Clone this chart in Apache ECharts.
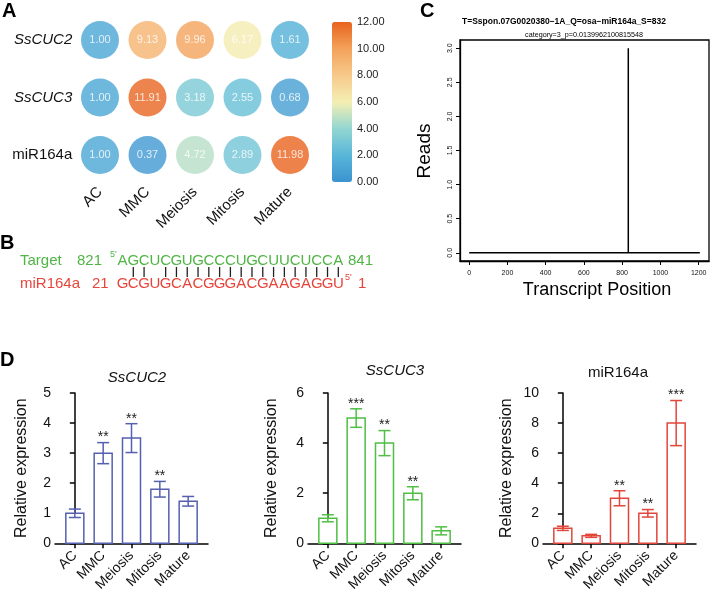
<!DOCTYPE html>
<html><head><meta charset="utf-8">
<script src="https://cdn.jsdelivr.net/npm/echarts@6/dist/echarts.min.js"></script>
<style>html,body{margin:0;padding:0;background:#fff}#c{width:711px;height:594px}</style>
</head><body><div id="c"></div>
<script>
const FONT = 'Liberation Sans, Arial, Helvetica, sans-serif';

// ---- Panel A : bubble heatmap ----
const heatStages = ['AC', 'MMC', 'Meiosis', 'Mitosis', 'Mature'];
const heatGenes = ['SsCUC2', 'SsCUC3', 'miR164a'];
const heatSsCUC2 = [1.00, 9.13, 9.96, 6.17, 1.61];
const heatSsCUC3 = [1.00, 11.91, 3.18, 2.55, 0.68];
const heatMiR164a = [1.00, 0.37, 4.72, 2.89, 11.98];
const heatColors = ['#3b93d0', '#58b6d9', '#93d6d2', '#f4efb3', '#f7c98b', '#f3a25a', '#e8621d'];

// ---- Panel B : target pairing ----
const targetSeq = ['A','G','C','U','C','G','U','G','C','C','C','U','G','C','U','U','C','U','C','C','A'];
const mirSeq    = ['G','C','G','U','G','C','A','C','G','G','G','A','C','G','A','A','G','A','G','G','U'];
const pairMask  = [0,1,1,0,1,1,1,1,1,1,1,1,1,1,1,1,1,1,1,1,1];

// ---- Panel C : degradome reads ----
const readsPositions = [0, 832, 832, 832, 1206];
const readsValues    = [0, 0, 3, 0, 0];
const cXTicks = [0, 200, 400, 600, 800, 1000, 1200];
const cYTicks = [0, 0.5, 1, 1.5, 2, 2.5, 3];

// ---- Panel D : qPCR ----
const dStages = ['AC', 'MMC', 'Meiosis', 'Mitosis', 'Mature'];
const dPositions = [0, 1, 2, 3, 4];
const cuc2Mean = [1.0, 3.0, 3.5, 1.8, 1.4];
const cuc2Err  = [0.14, 0.35, 0.48, 0.26, 0.16];
const cuc2Sig  = ['', '**', '**', '**', ''];
const cuc3Mean = [1.0, 5.0, 4.0, 2.0, 0.5];
const cuc3Err  = [0.14, 0.37, 0.5, 0.26, 0.16];
const cuc3Sig  = ['', '***', '**', '**', ''];
const mirMean  = [1.0, 0.5, 3.0, 2.0, 8.0];
const mirErr   = [0.14, 0.1, 0.5, 0.25, 1.5];
const mirSig   = ['', '', '**', '**', '***'];

const heatData = [];
[heatSsCUC2, heatSsCUC3, heatMiR164a].forEach((row, gi) => row.forEach((v, si) => heatData.push([si, gi, v])));

const chart = echarts.init(document.getElementById('c'), null, {renderer: 'canvas', width: 711, height: 594});

function txt(text, x, y, o) {
  o = o || {};
  return {
    type: 'text', x: x, y: y, rotation: o.rotation || 0, silent: true,
    style: {
      text: text, x: 0, y: 0, fill: o.color || '#111',
      fontSize: o.size || 15, fontFamily: FONT, fontWeight: o.weight || 'normal',
      fontStyle: o.style || 'normal',
      textAlign: o.align || 'left', textVerticalAlign: 'middle'
    }
  };
}

function barRender(color, means, errs, sigs) {
  return function (params, api) {
    const i = params.dataIndex;
    const x = api.value(0), m = api.value(1);
    const base = api.coord([x, 0]);
    const top = api.coord([x, m]);
    const eT = api.coord([x, m + errs[i]]);
    const eB = api.coord([x, m - errs[i]]);
    const w = 18, cap = 6;
    const st = {stroke: color, lineWidth: 1.5, fill: null};
    const ch = [
      {type: 'rect', shape: {x: base[0] - w / 2, y: top[1], width: w, height: base[1] - top[1]},
       style: {fill: '#fff', stroke: color, lineWidth: 1.5}},
      {type: 'line', shape: {x1: eT[0], y1: eT[1], x2: eB[0], y2: eB[1]}, style: st},
      {type: 'line', shape: {x1: eT[0] - cap, y1: eT[1], x2: eT[0] + cap, y2: eT[1]}, style: st},
      {type: 'line', shape: {x1: eB[0] - cap, y1: eB[1], x2: eB[0] + cap, y2: eB[1]}, style: st}
    ];
    if (sigs[i]) {
      ch.push({type: 'text', style: {text: sigs[i], x: eT[0], y: eT[1] - 5, fill: '#222', fontSize: 14,
        fontFamily: FONT, textAlign: 'center', textVerticalAlign: 'middle'}});
    }
    return {type: 'group', children: ch};
  };
}

function dXAxis(g) {
  return {
    gridIndex: g, type: 'value', min: -0.7, max: 4.7,
    axisLine: {show: true, onZero: false, lineStyle: {color: '#000', width: 1.5}},
    axisTick: {show: true, length: 5, customValues: dPositions, lineStyle: {color: '#000', width: 1.5}},
    axisLabel: {customValues: dPositions, formatter: v => dStages[Math.round(v)], rotate: 45,
      fontSize: 14, color: '#111', margin: 10},
    splitLine: {show: false}
  };
}
function dYAxis(g, max, interval, gap) {
  return {
    gridIndex: g, type: 'value', min: 0, max: max, interval: interval,
    axisLine: {show: true, lineStyle: {color: '#000', width: 1.5}},
    axisTick: {show: true, length: 5, lineStyle: {color: '#000', width: 1.5}},
    axisLabel: {fontSize: 14, color: '#111', margin: 4},
    splitLine: {show: false},
    name: 'Relative expression', nameLocation: 'middle', nameGap: gap,
    nameTextStyle: {fontSize: 16, color: '#111'}
  };
}

const option = {
  animation: false,
  textStyle: {fontFamily: FONT},
  grid: [
    {left: 76.25, top: 11.25, width: 237.5, height: 172.5},
    {left: 332, top: 22, width: 20, height: 160},
    {left: 117.1, top: 249, width: 226.6, height: 46},
    {left: 460, top: 40, width: 249, height: 221, show: true, borderColor: '#000', borderWidth: 1.3, backgroundColor: 'transparent'},
    {left: 55, top: 393, width: 153, height: 152},
    {left: 308, top: 393, width: 153, height: 152},
    {left: 543, top: 393, width: 153, height: 152}
  ],
  xAxis: [
    {gridIndex: 0, type: 'category', data: heatStages, axisLine: {show: false}, axisTick: {show: false},
     axisLabel: {rotate: 45, fontSize: 15, color: '#111', margin: 6}, splitLine: {show: false}},
    {gridIndex: 1, type: 'value', show: false},
    {gridIndex: 2, type: 'category', data: targetSeq.map((_, i) => i), show: false},
    {gridIndex: 3, type: 'value', min: -48, max: 1254,
     axisLine: {show: true, onZero: false, lineStyle: {color: '#000', width: 1.3}},
     axisTick: {show: true, length: 4, customValues: cXTicks, lineStyle: {color: '#000'}},
     axisLabel: {customValues: cXTicks, formatter: v => String(v), fontSize: 7, color: '#111', margin: 9},
     splitLine: {show: false}},
    dXAxis(4), dXAxis(5), dXAxis(6)
  ],
  yAxis: [
    {gridIndex: 0, type: 'category', data: heatGenes, inverse: true, axisLine: {show: false}, axisTick: {show: false},
     axisLabel: {fontSize: 15, color: '#111', margin: 4,
       formatter: v => v.indexOf('Ss') === 0 ? '{it|' + v + '}' : v,
       rich: {it: {fontStyle: 'italic', fontSize: 15, color: '#111'}}},
     splitLine: {show: false}},
    {gridIndex: 1, type: 'value', min: 0, max: 12, interval: 2, position: 'right',
     axisLine: {show: false}, axisTick: {show: false}, splitLine: {show: false},
     axisLabel: {formatter: v => v.toFixed(2), fontSize: 11, color: '#222', margin: 5}},
    {gridIndex: 2, type: 'value', min: -0.5, max: 1.5, show: false},
    {gridIndex: 3, type: 'value', min: -0.12, max: 3.12,
     axisLine: {show: true, onZero: false, lineStyle: {color: '#000', width: 1.3}},
     axisTick: {show: true, length: 4, customValues: cYTicks, lineStyle: {color: '#000'}},
     axisLabel: {customValues: cYTicks, formatter: v => v.toFixed(1), rotate: 90, fontSize: 7, color: '#111', margin: 6},
     splitLine: {show: false}},
    dYAxis(4, 5, 1, 25), dYAxis(5, 6, 2, 28), dYAxis(6, 10, 2, 28)
  ],
  visualMap: {
    type: 'continuous', seriesIndex: 0, dimension: 2, min: 0, max: 12,
    orient: 'vertical', left: 332, top: 22, itemWidth: 20, itemHeight: 160,
    calculable: false, padding: 0, hoverLink: false,
    inRange: {color: heatColors}
  },
  series: [
    {type: 'scatter', xAxisIndex: 0, yAxisIndex: 0, data: heatData, symbolSize: 38, silent: true,
     label: {show: true, position: 'inside', formatter: p => p.value[2].toFixed(2), color: '#fff', fontSize: 11}},
    {type: 'custom', xAxisIndex: 2, yAxisIndex: 2, silent: true,
     data: targetSeq.map((_, i) => [i, 1]),
     renderItem: function (params, api) {
       const i = params.dataIndex;
       const pt = api.coord([i, 1]);
       const pb = api.coord([i, 0]);
       const ch = [
         {type: 'text', style: {text: targetSeq[i], x: pt[0], y: pt[1], fill: '#4fb545', fontSize: 15, fontFamily: FONT, textAlign: 'center', textVerticalAlign: 'middle'}},
         {type: 'text', style: {text: mirSeq[i], x: pb[0], y: pb[1], fill: '#e6453b', fontSize: 15, fontFamily: FONT, textAlign: 'center', textVerticalAlign: 'middle'}}
       ];
       if (pairMask[i]) {
         const a = api.coord([i, 0.72]), b = api.coord([i, 0.28]);
         ch.push({type: 'line', shape: {x1: a[0], y1: a[1], x2: b[0], y2: b[1]}, style: {stroke: '#222', lineWidth: 1.3}});
       }
       return {type: 'group', children: ch};
     }},
    {type: 'line', xAxisIndex: 3, yAxisIndex: 3, silent: true, showSymbol: false,
     data: readsPositions.map((x, i) => [x, readsValues[i]]),
     lineStyle: {color: '#000', width: 1.5}},
    {type: 'custom', xAxisIndex: 4, yAxisIndex: 4, silent: true,
     data: dPositions.map((x, i) => [x, cuc2Mean[i]]), renderItem: barRender('#5560b0', cuc2Mean, cuc2Err, cuc2Sig)},
    {type: 'custom', xAxisIndex: 5, yAxisIndex: 5, silent: true,
     data: dPositions.map((x, i) => [x, cuc3Mean[i]]), renderItem: barRender('#4fbf44', cuc3Mean, cuc3Err, cuc3Sig)},
    {type: 'custom', xAxisIndex: 6, yAxisIndex: 6, silent: true,
     data: dPositions.map((x, i) => [x, mirMean[i]]), renderItem: barRender('#e2463a', mirMean, mirErr, mirSig)}
  ],
  graphic: [
    txt('A', 2, 11.5, {size: 20, weight: 'bold', color: '#000'}),
    txt('B', 0, 243.5, {size: 20, weight: 'bold', color: '#000'}),
    txt('C', 420, 11.5, {size: 20, weight: 'bold', color: '#000'}),
    txt('D', 0, 360.5, {size: 20, weight: 'bold', color: '#000'}),
    // Panel B labels
    txt('Target', 20, 260.5, {color: '#4fb545'}),
    txt('821', 77, 260.5, {color: '#4fb545'}),
    txt("5'", 110, 255, {color: '#4fb545', size: 9}),
    txt('841', 348, 260.5, {color: '#4fb545'}),
    txt('miR164a', 20, 283.5, {color: '#e6453b'}),
    txt('21', 92, 283.5, {color: '#e6453b'}),
    txt("5'", 345, 278, {color: '#e6453b', size: 9}),
    txt('1', 358, 283.5, {color: '#e6453b'}),
    // Panel C texts
    txt('T=Sspon.07G0020380\u22121A_Q=osa\u2212miR164a_S=832', 462, 22, {size: 8.5, weight: 'bold', color: '#000'}),
    txt('category=3_p=0.0139962100815548', 584, 35, {size: 7.2, align: 'center', color: '#000'}),
    txt('Reads', 425, 151, {size: 19, align: 'center', rotation: Math.PI / 2, color: '#000'}),
    txt('Transcript Position', 597, 290, {size: 18, align: 'center', color: '#000'}),
    // Panel D titles
    txt('SsCUC2', 137, 377.5, {size: 15, align: 'center', style: 'italic'}),
    txt('SsCUC3', 395, 371, {size: 15, align: 'center', style: 'italic'}),
    txt('miR164a', 618, 372.5, {size: 15, align: 'center'})
  ]
};
chart.setOption(option);
</script></body></html>
